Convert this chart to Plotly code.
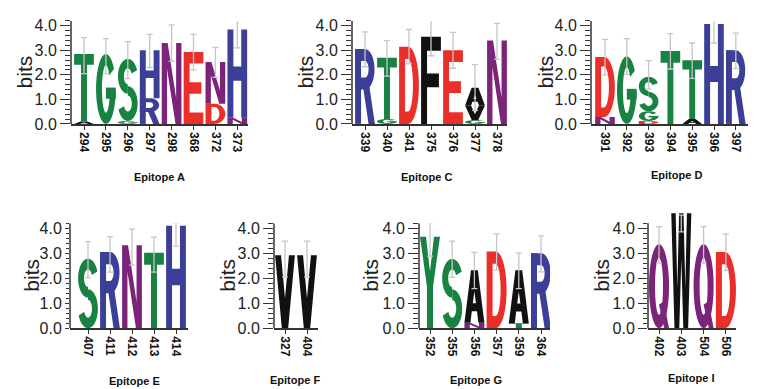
import numpy as np
import plotly.graph_objects as go

# ---------------- data (stacks listed bottom -> top as (residue, bits)) ----------------
A_positions = ["294", "295", "296", "297", "298", "368", "372", "373"]
A_stacks = [[("A", 0.10), ("T", 2.75)], [("G", 2.85)], [("G", 0.12), ("S", 2.53)],
            [("R", 1.05), ("H", 1.95)], [("N", 3.30)], [("E", 2.93)],
            [("D", 0.82), ("N", 1.70)], [("N", 0.25), ("H", 3.60)]]
A_err_low = [2.05, 2.05, 1.85, 2.30, 2.55, 2.20, 1.90, 3.10]
A_err_high = [3.52, 3.48, 3.35, 3.65, 4.04, 3.65, 3.12, 4.35]

C_positions = ["339", "340", "341", "375", "376", "377", "378"]
C_stacks = [[("R", 3.05)], [("G", 0.20), ("T", 2.50)], [("D", 3.15)], [("F", 3.55)],
            [("E", 3.00)], [("G", 0.15), ("V", 0.60), ("A", 0.72)], [("N", 3.40)]]
C_err_low = [2.33, 1.95, 2.45, 2.78, 2.27, 0.55, 2.63]
C_err_high = [3.75, 3.40, 3.85, 4.27, 3.73, 2.42, 4.10]

D_positions = ["391", "392", "393", "394", "395", "396", "397"]
D_stacks = [[("N", 0.28), ("D", 2.45)], [("G", 2.75)], [("D", 0.12), ("G", 0.40), ("S", 1.40)],
            [("T", 2.97)], [("A", 0.20), ("T", 2.40)], [("H", 4.07)], [("R", 3.00)]]
D_err_low = [2.00, 2.02, 1.42, 2.24, 1.86, 3.30, 2.26]
D_err_high = [3.45, 3.48, 2.58, 3.68, 3.30, 4.28, 3.70]

E_positions = ["407", "411", "412", "413", "414"]
E_stacks = [[("S", 2.78)], [("R", 3.05)], [("N", 3.32)], [("T", 3.02)], [("H", 4.10)]]
E_err_low = [2.02, 2.24, 2.52, 2.24, 3.28]
E_err_high = [3.46, 3.66, 3.96, 3.64, 4.22]

F_positions = ["327", "404"]
F_stacks = [[("V", 2.92)], [("V", 2.92)]]
F_err_low = [2.05, 2.05]
F_err_high = [3.48, 3.48]

G_positions = ["352", "355", "356", "357", "359", "364"]
G_stacks = [[("Y", 3.66)], [("S", 2.77)], [("N", 0.22), ("A", 2.10)], [("D", 3.07)],
            [("T", 0.20), ("A", 2.12)], [("R", 3.00)]]
G_err_low = [2.88, 2.03, 1.58, 2.32, 1.58, 2.25]
G_err_high = [4.22, 3.48, 3.03, 3.77, 3.00, 3.69]

I_positions = ["402", "403", "504", "506"]
I_stacks = [[("Q", 3.36)], [("W", 4.60)], [("Q", 3.36)], [("D", 3.05)]]
I_err_low = [2.60, 3.85, 2.60, 2.30]
I_err_high = [4.06, 4.52, 4.06, 3.76]

epitope_titles = ["Epitope A", "Epitope C", "Epitope D", "Epitope E", "Epitope F", "Epitope G", "Epitope I"]
y_tick_values = [0, 1, 2, 3, 4]
y_tick_labels = ["0.0", "1.0", "2.0", "3.0", "4.0"]

panels = [
    (A_positions, A_stacks, A_err_low, A_err_high),
    (C_positions, C_stacks, C_err_low, C_err_high),
    (D_positions, D_stacks, D_err_low, D_err_high),
    (E_positions, E_stacks, E_err_low, E_err_high),
    (F_positions, F_stacks, F_err_low, F_err_high),
    (G_positions, G_stacks, G_err_low, G_err_high),
    (I_positions, I_stacks, I_err_low, I_err_high),
]

# ---------------- layout geometry (pixels) ----------------
W, H = 767, 389
geometry = [
    dict(left=63, c0=76, sp=21.9, right=240, base=116.5, ppb=25.3, ymax=4.2, bits=-47, tl=10, title=(151, 171)),
    dict(left=344, c0=357, sp=22.0, right=499, base=116.5, ppb=25.3, ymax=4.2, bits=-47, tl=10, title=(418, 171)),
    dict(left=583, c0=597, sp=21.8, right=740, base=116.5, ppb=25.3, ymax=4.2, bits=-46, tl=10, title=(668, 169)),
    dict(left=62, c0=80, sp=22.0, right=180, base=327.3, ppb=25.8, ymax=4.2, bits=-38, tl=4, title=(126, 382)),
    dict(left=266, c0=277, sp=22.0, right=310, base=327.3, ppb=25.8, ymax=4.2, bits=-46, tl=10, title=(287, 381)),
    dict(left=411, c0=422, sp=22.2, right=542, base=327.3, ppb=25.8, ymax=4.2, bits=-48, tl=10, title=(468, 381)),
    dict(left=640, c0=651, sp=22.3, right=728, base=327.3, ppb=25.8, ymax=4.7, bits=-46, tl=9, title=(683, 379)),
]
AXIS_TOP = 4.2

GREEN, BLUE, RED, PURPLE, BLACK = "#178241", "#3b3f98", "#ea2f2a", "#7b2479", "#111111"
COLORS = {"G": GREEN, "S": GREEN, "T": GREEN, "Y": GREEN, "C": GREEN,
          "N": PURPLE, "Q": PURPLE, "K": BLUE, "R": BLUE, "H": BLUE, "D": RED, "E": RED}
FONT = "Liberation Sans, Arial, sans-serif"

# ---------------- glyph templates (unit box) ----------------
SW, SH = 0.30, 0.16


def arc(cx, cy, rx, ry, a0, a1, n=40):
    t = np.radians(np.linspace(a0, a1, n))
    return [(cx + rx * np.cos(a), cy + ry * np.sin(a)) for a in t]


def ring(cx, cy, rxo, ryo, rxi, ryi, a0, a1):
    return arc(cx, cy, rxo, ryo, a0, a1) + arc(cx, cy, rxi, ryi, a1, a0)


def rect(x0, y0, x1, y1):
    return [(x0, y0), (x1, y0), (x1, y1), (x0, y1)]


GLYPHS = {
    "T": [[[(0, 1), (1, 1), (1, 1 - SH), (0.5 + SW / 2, 1 - SH), (0.5 + SW / 2, 0),
            (0.5 - SW / 2, 0), (0.5 - SW / 2, 1 - SH), (0, 1 - SH)]]],
    "H": [[[(0, 0), (0, 1), (SW, 1), (SW, 0.5 + SH / 2), (1 - SW, 0.5 + SH / 2), (1 - SW, 1), (1, 1),
            (1, 0), (1 - SW, 0), (1 - SW, 0.5 - SH / 2), (SW, 0.5 - SH / 2), (SW, 0)]]],
    "E": [[[(0, 0), (0, 1), (1, 1), (1, 1 - SH), (SW, 1 - SH), (SW, 0.5 + SH / 2), (0.9, 0.5 + SH / 2),
            (0.9, 0.5 - SH / 2), (SW, 0.5 - SH / 2), (SW, SH), (1, SH), (1, 0)]]],
    "F": [[[(0, 0), (0, 1), (1, 1), (1, 1 - SH), (SW, 1 - SH), (SW, 0.5 + SH / 2), (0.9, 0.5 + SH / 2),
            (0.9, 0.5 - SH / 2), (SW, 0.5 - SH / 2), (SW, 0)]]],
    "N": [[[(0, 0), (0, 1), (0.3, 1), (0.73, 0.32), (0.73, 1), (1, 1), (1, 0), (0.7, 0),
            (0.27, 0.68), (0.27, 0)]]],
    "V": [[[(0, 1), (0.3, 1), (0.5, 0.41), (0.7, 1), (1, 1), (0.66, 0), (0.34, 0)]]],
    "A": [[[(0, 0), (0.33, 1), (0.67, 1), (1, 0), (0.7, 0), (0.63, 0.22), (0.37, 0.22), (0.3, 0)],
           [(0.42, 0.37), (0.578, 0.37), (0.5, 0.6)]]],
    "W": [[[(0, 1), (0.22, 1), (0.3, 0.35), (0.39, 1), (0.61, 1), (0.7, 0.35), (0.78, 1), (1, 1),
            (0.84, 0), (0.6, 0), (0.5, 0.6), (0.4, 0), (0.16, 0)]]],
    "Y": [[[(0, 1), (0.3, 1), (0.5, 0.62), (0.7, 1), (1, 1), (0.65, 0.45), (0.65, 0), (0.35, 0),
            (0.35, 0.45)]]],
    "D": [[[(0, 0), (0, 1), (0.45, 1)] + arc(0.45, 0.5, 0.55, 0.5, 90, -90),
           [(SW, SH), (SW, 1 - SH), (0.45, 1 - SH)] + arc(0.45, 0.5, 0.55 - SW, 0.5 - SH, 90, -90)]],
    "Q": [[arc(0.5, 0.5, 0.5, 0.5, 0, 360), arc(0.5, 0.5, 0.5 - SW, 0.5 - SH, 0, 360)],
          [[(0.5, 0.28), (0.74, 0.32), (1.0, 0.0), (0.76, 0.0)]]],
    "G": [[ring(0.5, 0.5, 0.5, 0.5, 0.5 - SW, 0.5 - SH, 35, 358)],
          [rect(0.5, 0.36, 1.0, 0.52)]],
    "S": [[ring(0.5, 0.72, 0.5, 0.28, 0.5 - SW, 0.28 - SH * 0.95, 20, 270)],
          [ring(0.5, 0.28, 0.5, 0.28, 0.5 - SW, 0.28 - SH * 0.95, 90, -160)]],
    "R": [[rect(0, 0, SW, 1)],
          [[(0, 1), (0.5, 1)] + arc(0.5, 0.73, 0.48, 0.27, 90, -90) + [(0, 0.46)],
           [(SW, 1 - SH), (0.5, 1 - SH)] + arc(0.5, 0.73, 0.48 - SW, 0.27 - SH, 90, -90) + [(SW, 0.46 + SH)]],
          [[(0.4, 0.5), (0.72, 0.5), (1.0, 0.0), (0.68, 0.0)]]],
}


def glyph_path(subpaths, x0, w, y0, h):
    parts = []
    for sp in subpaths:
        pts = " L ".join(f"{x0 + u * w:.4f},{y0 + v * h:.4f}" for u, v in sp)
        parts.append("M " + pts + " Z")
    return " ".join(parts)


fig = go.Figure()
shapes, annotations = [], []
LETTER_W = 0.9

for k, ((positions, stacks, err_lo, err_hi), g, title) in enumerate(zip(panels, geometry, epitope_titles), start=1):
    sfx = "" if k == 1 else str(k)
    xref, yref = "x" + sfx, "y" + sfx
    n = len(positions)
    xr = [(g["left"] - g["c0"]) / g["sp"], (g["right"] - g["c0"]) / g["sp"]]
    xdom = [g["left"] / W, g["right"] / W]
    ydom = [1 - g["base"] / H, 1 - (g["base"] - g["ymax"] * g["ppb"]) / H]

    fig.layout["xaxis" + sfx] = dict(
        domain=xdom, range=xr, anchor=yref, showgrid=False, zeroline=False,
        showline=True, linecolor="#333333", linewidth=1.5,
        tickmode="array", tickvals=list(range(n)), ticktext=positions, tickangle=90,
        ticks="outside", ticklen=4, tickwidth=1, tickcolor="#333333",
        tickfont=dict(family=FONT, size=12, color="#111111", weight="bold"), fixedrange=True)
    fig.layout["yaxis" + sfx] = dict(
        domain=ydom, range=[0, g["ymax"]], anchor=xref, showgrid=False, zeroline=False,
        showline=False, tickmode="array", tickvals=y_tick_values, ticktext=y_tick_labels,
        ticks="outside", ticklen=g["tl"], tickwidth=1.3, tickcolor="#333333",
        tickfont=dict(family=FONT, size=16, color="#222222"),
        minor=dict(tickvals=[round(0.2 * i, 1) for i in range(22)], ticks="outside",
                   ticklen=max(3, g["tl"] // 2), tickwidth=1, tickcolor="#333333"),
        fixedrange=True)

    shapes.append(dict(type="line", xref=xref + " domain", yref=yref, x0=0, x1=0, y0=0, y1=AXIS_TOP,
                       line=dict(color="#333333", width=1.5), layer="above"))

    for i, stack in enumerate(stacks):
        base = 0.0
        for res, hgt in stack:
            for part in GLYPHS[res]:
                shapes.append(dict(type="path", xref=xref, yref=yref, layer="below",
                                   path=glyph_path(part, i - LETTER_W / 2, LETTER_W, base, hgt),
                                   fillcolor=COLORS.get(res, BLACK), line=dict(width=0),
                                   fillrule="evenodd"))
            base += hgt

    mids = [(lo + hi) / 2 for lo, hi in zip(err_lo, err_hi)]
    half = [(hi - lo) / 2 for lo, hi in zip(err_lo, err_hi)]
    fig.add_trace(go.Scatter(
        x=list(range(n)), y=mids, mode="markers", xaxis=xref, yaxis=yref,
        marker=dict(size=2, color="rgba(0,0,0,0)"),
        error_y=dict(type="data", array=half, visible=True, color="#c6c6c6", thickness=1.3, width=3),
        hoverinfo="skip", showlegend=False))

    annotations.append(dict(text="bits", xref=xref + " domain", yref=yref, x=0, y=2.1,
                            xshift=g["bits"], xanchor="center", yanchor="middle",
                            textangle=-90, showarrow=False,
                            font=dict(family=FONT, size=21, color="#222222")))
    annotations.append(dict(text=f"<b>{title}</b>", xref="paper", yref="paper",
                            x=g["title"][0] / W, y=1 - g["title"][1] / H, xanchor="center",
                            yanchor="middle", showarrow=False,
                            font=dict(family=FONT, size=11, color="#111111")))

fig.update_layout(width=W, height=H, margin=dict(l=0, r=0, t=0, b=0),
                  paper_bgcolor="white", plot_bgcolor="rgba(0,0,0,0)",
                  shapes=shapes, annotations=annotations, showlegend=False)

fig.write_html("out.html")
